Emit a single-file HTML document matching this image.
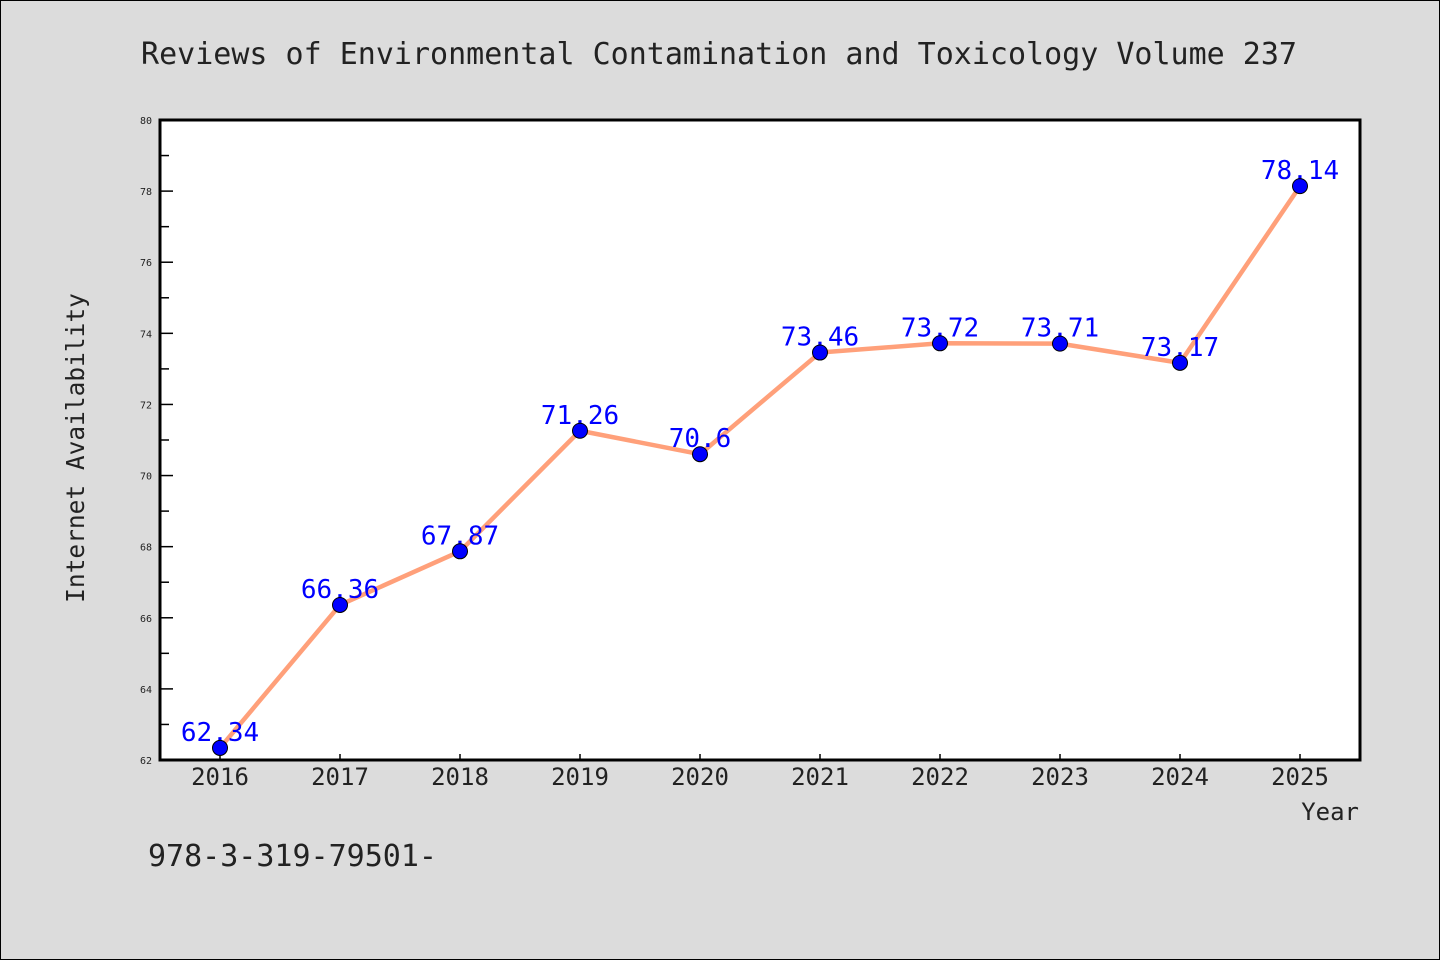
<!DOCTYPE html>
<html><head><meta charset="utf-8"><style>
html,body{margin:0;padding:0;background:#dcdcdc;}
svg{display:block;font-family:"WenQuanYi Zen Hei Mono","DejaVu Sans Mono","Liberation Mono",monospace;}
</style></head><body>
<svg id="c" width="1440" height="960">
<rect x="0.5" y="0.5" width="1439" height="959" fill="#dcdcdc" stroke="#000"/>
<text x="719" y="64" text-anchor="middle" font-size="30" fill="#222">Reviews of Environmental Contamination and Toxicology Volume 237</text>
<rect x="160" y="120" width="1200" height="640" fill="#fff"/>
<g id="ticks"></g>
<g id="series"></g>
<rect x="160" y="120" width="1200" height="640" fill="none" stroke="#000" stroke-width="3"/>
<text x="84" y="448" text-anchor="middle" font-size="24.5" fill="#222" transform="rotate(-90 84 448)">Internet Availability</text>
<text x="1359" y="820" text-anchor="end" font-size="24" fill="#222">Year</text>
<text x="148" y="866" font-size="30" fill="#222">978-3-319-79501-</text>
</svg>
<script>
const categories=["2016","2017","2018","2019","2020","2021","2022","2023","2024","2025"];
const values=[62.34,66.36,67.87,71.26,70.6,73.46,73.72,73.71,73.17,78.14];
const yTicks=[62,64,66,68,70,72,74,76,78,80];
const labels=["62.34","66.36","67.87","71.26","70.6","73.46","73.72","73.71","73.17","78.14"];
const NS="http://www.w3.org/2000/svg";
const x=i=>220+i*120;
const y=v=>760-(v-62)*(640/18);
function mk(t,a,p){const e=document.createElementNS(NS,t);for(const k in a)e.setAttribute(k,a[k]);p.appendChild(e);return e;}
const tg=document.getElementById('ticks'),sg=document.getElementById('series');
yTicks.forEach(v=>{
 const l=mk('line',{x1:160,x2:173,y1:y(v),y2:y(v),stroke:'#000','stroke-width':1.5},tg);
 
 
 if(v<80){const m=mk('line',{x1:160,x2:169,y1:y(v+1),y2:y(v+1),stroke:'#000','stroke-width':1.5},tg);
 
 }
 const t=mk('text',{x:152,y:y(v)+4,'text-anchor':'end','font-size':10,fill:'#222'},tg);t.textContent=v;
 
 
});
categories.forEach((c,i)=>{
 const l=mk('line',{x1:x(i),x2:x(i),y1:760,y2:754,stroke:'#000','stroke-width':1.5},tg);
 
 
 const t=mk('text',{x:x(i),y:785,'text-anchor':'middle','font-size':24,fill:'#222'},tg);t.textContent=c;
 
 
});
const pl=mk('polyline',{points:values.map((v,i)=>x(i)+','+y(v)).join(' '),fill:'none',stroke:'#ffa07a','stroke-width':4.5,'stroke-linejoin':'round'},sg);


values.forEach((v,i)=>{
 const t=mk('text',{x:x(i),y:y(v)-7,'text-anchor':'middle','font-size':26,fill:'#0000ff'},sg);t.textContent=labels[i];
 
 
 const p=mk('circle',{cx:x(i),cy:y(v),r:7.5,fill:'#0000ff',stroke:'#000','stroke-width':1},sg);
 
 
});
</script>
</body></html>
